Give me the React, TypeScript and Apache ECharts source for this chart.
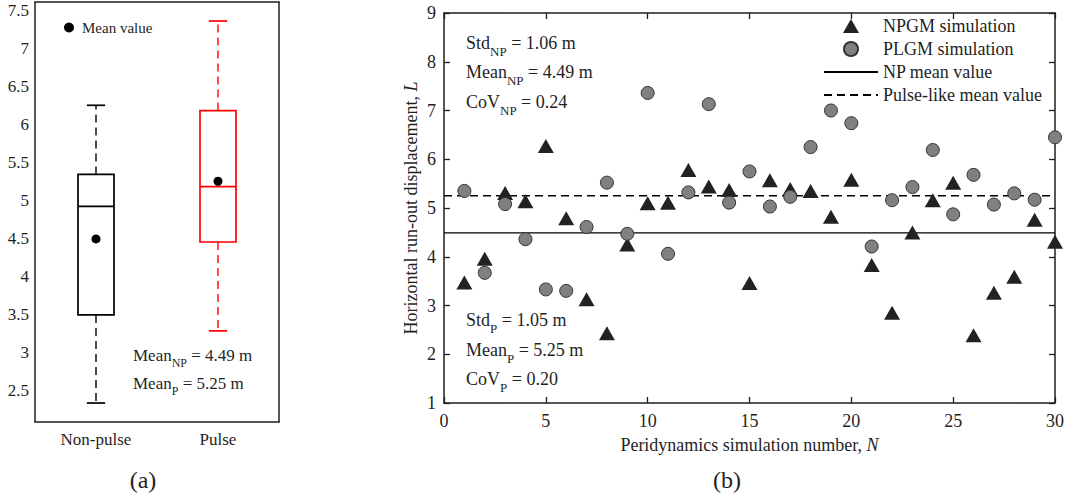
import React, { useEffect, useRef } from 'react';
import * as echarts from 'echarts';

// ---------- Data: panel (a) box plots ----------
const boxCategories = ['Non-pulse', 'Pulse'];
const boxLowerWhisker = [2.33, 3.28];
const boxQ1 = [3.49, 4.45];
const boxMedian = [4.92, 5.18];
const boxQ3 = [5.34, 6.18];
const boxUpperWhisker = [6.25, 7.36];
const boxMeans = [4.49, 5.25];
const boxColors = ['#000000', '#ff0000'];
const leftTicks = [2.5, 3, 3.5, 4, 4.5, 5, 5.5, 6, 6.5, 7, 7.5];

// ---------- Data: panel (b) scatter ----------
const simNumbers = [1, 2, 3, 4, 5, 6, 7, 8, 9, 10, 11, 12, 13, 14, 15, 16, 17, 18, 19, 20, 21, 22, 23, 24, 25, 26, 27, 28, 29, 30];
const npgmValues = [3.47, 3.96, 5.31, 5.14, 6.27, 4.79, 3.13, 2.43, 4.25, 5.1, 5.11, 5.78, 5.44, 5.37, 3.46, 5.57, 5.39, 5.35, 4.82, 5.58, 3.83, 2.85, 4.5, 5.16, 5.52, 2.39, 3.26, 3.59, 4.76, 4.31];
const plgmValues = [5.35, 3.67, 5.08, 4.36, 3.33, 3.3, 4.61, 5.52, 4.47, 7.36, 4.06, 5.32, 7.13, 5.11, 5.75, 5.03, 5.23, 6.25, 7.0, 6.74, 4.21, 5.16, 5.43, 6.19, 4.87, 5.68, 5.07, 5.3, 5.17, 6.45];
const npMean = 4.49;
const pMean = 5.25;
const xRange = [0, 30];

const FONT = 'Liberation Serif';
const TXT = '#1f1f1f';

function richLabel(parts: [string, string, string], main: number, sub: number, pad: number) {
  return {
    text: `{m|${parts[0]}}{s|${parts[1]}}{m|${parts[2]}}`,
    rich: {
      m: { fontSize: main, lineHeight: main + 2, verticalAlign: 'top', fontFamily: FONT, fill: TXT },
      s: { fontSize: sub, lineHeight: sub + 1, padding: [pad, 0, 0, 0], verticalAlign: 'top', fontFamily: FONT, fill: TXT },
    },
  };
}

export default function App() {
  const ref = useRef<HTMLDivElement>(null);
  useEffect(() => {
    if (!ref.current) return;
    const chart = echarts.init(ref.current, null, { renderer: 'svg' });

    const axisLine = { show: true, onZero: false, lineStyle: { color: TXT, width: 1.5 } };
    const hiddenIcon = { color: 'rgba(0,0,0,0)', borderColor: 'rgba(0,0,0,0)', borderWidth: 0 };
    const noLabel = { show: false };
    const nameStyle = {
      fontFamily: FONT,
      rich: {
        t: { fontFamily: FONT, fontSize: 18, color: TXT },
        i: { fontFamily: FONT, fontSize: 18, color: TXT, fontStyle: 'italic' },
      },
    };

    const boxData = boxCategories.map((_, i) => [i, boxLowerWhisker[i], boxQ1[i], boxMedian[i], boxQ3[i], boxUpperWhisker[i]]);

    const option: any = {
      animation: false,
      backgroundColor: '#ffffff',
      textStyle: { fontFamily: FONT, color: TXT },
      grid: [
        { left: 35, top: 2, width: 244, height: 420 },
        { left: 444, top: 13, width: 612, height: 390 },
      ],
      xAxis: [
        {
          type: 'category', gridIndex: 0, data: boxCategories, position: 'bottom',
          axisLine, axisTick: { inside: true, alignWithLabel: true, length: 5, lineStyle: { color: TXT, width: 1.3 } },
          axisLabel: { fontFamily: FONT, fontSize: 17, color: TXT, margin: 9 }, splitLine: { show: false },
        },
        {
          type: 'category', gridIndex: 0, data: boxCategories, position: 'top',
          axisLine, axisTick: { inside: true, alignWithLabel: true, length: 5, lineStyle: { color: TXT, width: 1.3 } },
          axisLabel: noLabel, splitLine: { show: false },
        },
        {
          type: 'value', gridIndex: 1, min: xRange[0], max: xRange[1], interval: 5, position: 'bottom',
          axisLine, axisTick: { inside: true, length: 6, lineStyle: { color: TXT, width: 1.3 } },
          axisLabel: { fontFamily: FONT, fontSize: 18, color: TXT, margin: 9 }, splitLine: { show: false },
          name: '{t|Peridynamics simulation number, }{i|N}', nameLocation: 'middle', nameGap: 33, nameMoveOverlap: false,
          nameTextStyle: nameStyle,
        },
        {
          type: 'value', gridIndex: 1, min: xRange[0], max: xRange[1], interval: 5, position: 'top',
          axisLine, axisTick: { inside: true, length: 6, lineStyle: { color: TXT, width: 1.3 } },
          axisLabel: noLabel, splitLine: { show: false },
        },
      ],
      yAxis: [
        {
          type: 'value', gridIndex: 0, min: 2.08, max: 7.61, position: 'left',
          axisLine, axisTick: { inside: true, length: 5, customValues: leftTicks, lineStyle: { color: TXT, width: 1.3 } },
          axisLabel: { fontFamily: FONT, fontSize: 17, color: TXT, margin: 6, customValues: leftTicks }, splitLine: { show: false },
        },
        {
          type: 'value', gridIndex: 0, min: 2.08, max: 7.61, position: 'right',
          axisLine, axisTick: { inside: true, length: 5, customValues: leftTicks, lineStyle: { color: TXT, width: 1.3 } },
          axisLabel: { show: false, customValues: leftTicks }, splitLine: { show: false },
        },
        {
          type: 'value', gridIndex: 1, min: 1, max: 9, interval: 1, position: 'left',
          axisLine, axisTick: { inside: true, length: 6, lineStyle: { color: TXT, width: 1.3 } },
          axisLabel: { fontFamily: FONT, fontSize: 18, color: TXT, margin: 8 }, splitLine: { show: false },
          name: '{t|Horizontal run-out displacement, }{i|L}', nameLocation: 'middle', nameGap: 24, nameMoveOverlap: false,
          nameTextStyle: nameStyle,
        },
        {
          type: 'value', gridIndex: 1, min: 1, max: 9, interval: 1, position: 'right',
          axisLine, axisTick: { inside: true, length: 6, lineStyle: { color: TXT, width: 1.3 } },
          axisLabel: noLabel, splitLine: { show: false },
        },
      ],
      legend: [
        {
          data: ['Mean value'], left: 64, top: 20, padding: 0, itemWidth: 10, itemHeight: 10,
          textStyle: { fontFamily: FONT, fontSize: 15, color: TXT, padding: [0, 0, 0, 3] },
        },
        {
          data: ['NPGM simulation', 'PLGM simulation'],
          orient: 'vertical', left: 843, top: 17, padding: 0, itemWidth: 16, itemHeight: 14, itemGap: 5,
          textStyle: { fontFamily: FONT, fontSize: 18, color: TXT, padding: [0, 0, 0, 19] },
        },
        {
          data: [
            { name: 'NP mean value', itemStyle: hiddenIcon },
            { name: 'Pulse-like mean value', itemStyle: hiddenIcon },
          ],
          orient: 'vertical', left: 823, top: 63, padding: 0, itemWidth: 54, itemHeight: 14, itemGap: 5,
          textStyle: { fontFamily: FONT, fontSize: 18, color: TXT },
        },
      ],
      series: [
        {
          type: 'custom', name: 'Box', xAxisIndex: 0, yAxisIndex: 0, data: boxData,
          encode: { x: 0, y: [1, 2, 3, 4, 5] }, z: 2,
          renderItem: (params: any, api: any) => {
            const idx = api.value(0);
            const pLow = api.coord([idx, api.value(1)]);
            const pQ1 = api.coord([idx, api.value(2)]);
            const pMed = api.coord([idx, api.value(3)]);
            const pQ3 = api.coord([idx, api.value(4)]);
            const pHigh = api.coord([idx, api.value(5)]);
            const band = api.size([1, 0])[0];
            const bw = band * 0.295;
            const cw = band * 0.15;
            const cx = pMed[0];
            const color = boxColors[params.dataIndex];
            const solid = { stroke: color, lineWidth: 1.7, fill: 'none' };
            const dashed = { stroke: color, lineWidth: 1.4, lineDash: [8, 5], fill: 'none' };
            return {
              type: 'group',
              children: [
                { type: 'line', shape: { x1: cx, y1: pQ3[1], x2: cx, y2: pHigh[1] }, style: dashed },
                { type: 'line', shape: { x1: cx, y1: pQ1[1], x2: cx, y2: pLow[1] }, style: dashed },
                { type: 'line', shape: { x1: cx - cw / 2, y1: pHigh[1], x2: cx + cw / 2, y2: pHigh[1] }, style: solid },
                { type: 'line', shape: { x1: cx - cw / 2, y1: pLow[1], x2: cx + cw / 2, y2: pLow[1] }, style: solid },
                { type: 'rect', shape: { x: cx - bw / 2, y: pQ3[1], width: bw, height: pQ1[1] - pQ3[1] }, style: solid },
                { type: 'line', shape: { x1: cx - bw / 2, y1: pMed[1], x2: cx + bw / 2, y2: pMed[1] }, style: solid },
              ],
            };
          },
        },
        {
          type: 'scatter', name: 'Mean value', xAxisIndex: 0, yAxisIndex: 0,
          data: boxMeans.map((v, i) => [i, v]), symbol: 'circle', symbolSize: 9,
          itemStyle: { color: '#000000', opacity: 1 }, z: 5,
        },
        {
          type: 'line', name: 'NP mean value', xAxisIndex: 2, yAxisIndex: 2,
          data: [[xRange[0], npMean], [xRange[1], npMean]], symbol: 'none',
          lineStyle: { color: '#000000', width: 1.4, type: 'solid' }, itemStyle: { color: '#000000' }, z: 2,
        },
        {
          type: 'line', name: 'Pulse-like mean value', xAxisIndex: 2, yAxisIndex: 2,
          data: [[xRange[0], pMean], [xRange[1], pMean]], symbol: 'none',
          lineStyle: { color: '#000000', width: 1.4, type: [8, 5] }, itemStyle: { color: '#000000' }, z: 2,
        },
        {
          type: 'scatter', name: 'NPGM simulation', xAxisIndex: 2, yAxisIndex: 2,
          data: simNumbers.map((n, i) => [n, npgmValues[i]]), symbol: 'triangle', symbolSize: [16, 14],
          itemStyle: { color: '#222222', opacity: 1 }, z: 3,
        },
        {
          type: 'scatter', name: 'PLGM simulation', xAxisIndex: 2, yAxisIndex: 2,
          data: simNumbers.map((n, i) => [n, plgmValues[i]]), symbol: 'circle', symbolSize: 13,
          itemStyle: { color: '#808080', borderColor: '#333333', borderWidth: 1, opacity: 1 }, z: 4,
        },
      ],
      graphic: [
        { type: 'text', x: 133, y: 347, style: { ...richLabel(['Mean', 'NP', ' = 4.49 m'], 17, 12, 10), verticalAlign: 'top' } },
        { type: 'text', x: 133, y: 375, style: { ...richLabel(['Mean', 'P', ' = 5.25 m'], 17, 12, 10), verticalAlign: 'top' } },
        { type: 'text', x: 466, y: 34, style: { ...richLabel(['Std', 'NP', ' = 1.06 m'], 18, 13, 11), verticalAlign: 'top' } },
        { type: 'text', x: 466, y: 63, style: { ...richLabel(['Mean', 'NP', ' = 4.49 m'], 18, 13, 11), verticalAlign: 'top' } },
        { type: 'text', x: 466, y: 93, style: { ...richLabel(['CoV', 'NP', ' = 0.24'], 18, 13, 11), verticalAlign: 'top' } },
        { type: 'text', x: 466, y: 311, style: { ...richLabel(['Std', 'P', ' = 1.05 m'], 18, 13, 11), verticalAlign: 'top' } },
        { type: 'text', x: 466, y: 341, style: { ...richLabel(['Mean', 'P', ' = 5.25 m'], 18, 13, 11), verticalAlign: 'top' } },
        { type: 'text', x: 466, y: 370, style: { ...richLabel(['CoV', 'P', ' = 0.20'], 18, 13, 11), verticalAlign: 'top' } },
        { type: 'text', x: 143, y: 480, style: { text: '(a)', fontFamily: FONT, fontSize: 24, fill: TXT, align: 'center', verticalAlign: 'middle' } },
        { type: 'text', x: 727, y: 480, style: { text: '(b)', fontFamily: FONT, fontSize: 24, fill: TXT, align: 'center', verticalAlign: 'middle' } },
      ],
    };

    chart.setOption(option);
    return () => chart.dispose();
  }, []);

  return <div ref={ref} style={{ position: 'absolute', left: 0, top: 0, width: 1067, height: 499 }} />;
}
